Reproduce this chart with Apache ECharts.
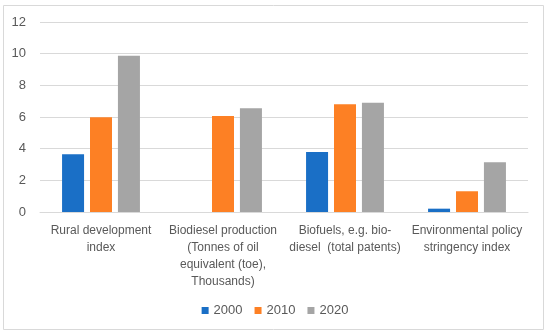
<!DOCTYPE html>
<html><head><meta charset="utf-8">
<script src="https://cdn.jsdelivr.net/npm/echarts@6/dist/echarts.min.js"></script>
<style>html,body{margin:0;padding:0;background:#fff}#c{width:550px;height:335px}</style>
</head><body><div id="c"></div>
<script>
var categories = ["Rural development\nindex", "Biodiesel production\n(Tonnes of oil\nequivalent (toe),\nThousands)", "Biofuels, e.g. bio-\ndiesel  (total patents)", "Environmental policy\nstringency index"];
var seriesNames = ["2000", "2010", "2020"];
var values2000 = [3.64, null, 3.79, 0.21];
var values2010 = [5.98, 6.06, 6.8, 1.31];
var values2020 = [9.87, 6.55, 6.9, 3.14];
var yTicks = {min: 0, max: 12, interval: 2};
var colors = ["#1a6fc6", "#fd8024", "#a5a5a5"];

var chart = echarts.init(document.getElementById('c'));
var data = [values2000, values2010, values2020];
chart.setOption({
  animation: false,
  textStyle: {fontFamily: "Liberation Sans"},
  graphic: [{type: 'rect', shape: {x: 3.5, y: 5.5, width: 540, height: 324}, style: {fill: 'none', stroke: '#d9d9d9', lineWidth: 1}, silent: true}],
  grid: {left: 40, right: 22, top: 22, bottom: 123},
  legend: {
    bottom: 13, left: 'center', itemWidth: 7, itemHeight: 7, itemGap: 12,
    icon: 'rect',
    textStyle: {color: '#595959', fontSize: 13, fontFamily: "Liberation Sans"},
    data: seriesNames
  },
  xAxis: {
    type: 'category', data: categories,
    axisLine: {lineStyle: {color: '#d9d9d9'}},
    axisTick: {show: false},
    axisLabel: {color: '#595959', fontSize: 12, lineHeight: 17, margin: 10, interval: 0}
  },
  yAxis: {
    type: 'value', min: yTicks.min, max: yTicks.max, interval: yTicks.interval,
    axisLine: {show: false}, axisTick: {show: false},
    splitLine: {lineStyle: {color: '#d9d9d9'}},
    axisLabel: {color: '#595959', fontSize: 13, margin: 14}
  },
  series: seriesNames.map(function (n, i) {
    return {name: n, type: 'bar', data: data[i], barWidth: 22, barGap: '27%',
      itemStyle: {color: colors[i]}};
  })
});
</script></body></html>
